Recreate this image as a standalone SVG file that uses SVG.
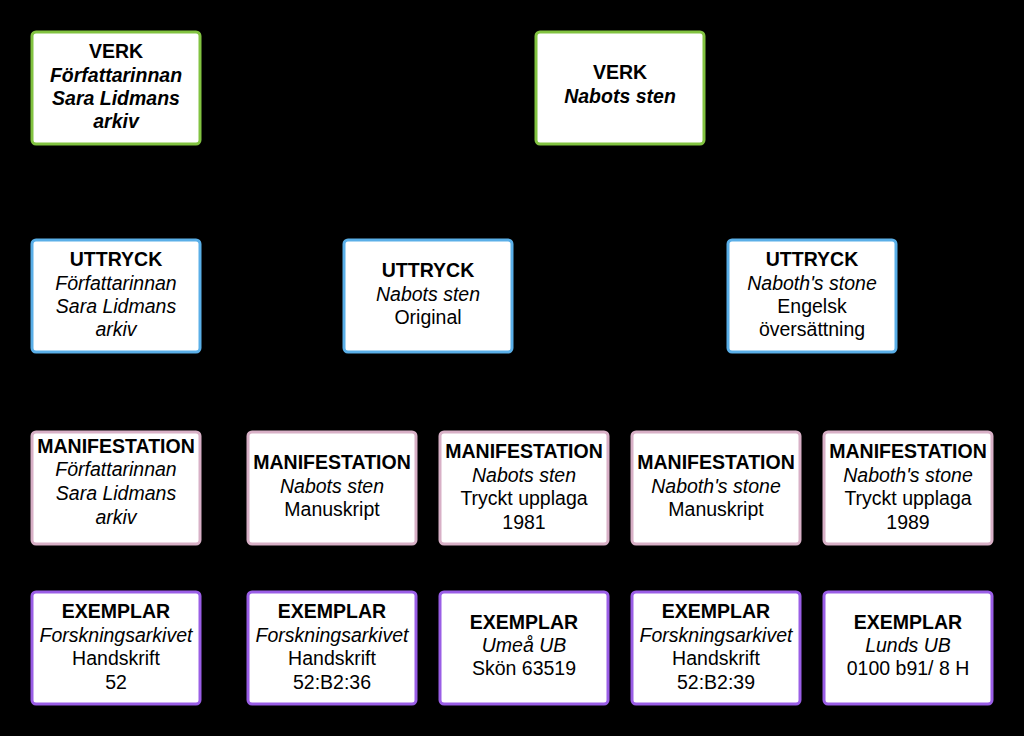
<svg xmlns="http://www.w3.org/2000/svg" width="1024" height="736" viewBox="0 0 1024 736">
<style>
.box{fill:#fff;stroke-width:3}
.verk{stroke:#82c341}
.utt{stroke:#5aafe8}
.man{stroke:#d8b0c6}
.ex{stroke:#9a5ee6}
text{font-family:"Liberation Sans",Arial,sans-serif;font-size:19.5px;fill:#000;text-anchor:middle}
.b{font-weight:bold}
.i{font-style:italic}
.c{fill:none;stroke:#000;stroke-width:1.5}
</style>
<rect width="1024" height="736" fill="#000"/>
<g id="connectors">
<path class="c" d="M200 87 H536"/>
<path class="c" d="M112 144 V240"/>
<path class="c" d="M592 144 V192 H428 V240"/>
<path class="c" d="M646 144 V192 H812 V240"/>
<path class="c" d="M200 296 H344"/>
<path class="c" d="M112 352 V432"/>
<path class="c" d="M392 352 V392 H332 V432"/>
<path class="c" d="M460 352 V392 H523 V432"/>
<path class="c" d="M773 352 V392 H715 V432"/>
<path class="c" d="M849 352 V392 H907 V432"/>
<path class="c" d="M112 544 V592"/>
<path class="c" d="M332 544 V592"/>
<path class="c" d="M524 544 V592"/>
<path class="c" d="M716 544 V592"/>
<path class="c" d="M908 544 V592"/>
</g>
<g id="verk-arkiv"><rect class="box verk" x="32" y="32" width="168" height="112" rx="4"/>
<text x="116" y="58" class="b">VERK</text>
<text x="116" y="82" class="b i">Författarinnan</text>
<text x="116" y="105" class="b i">Sara Lidmans</text>
<text x="116" y="128" class="b i">arkiv</text></g>
<g id="verk-nabots"><rect class="box verk" x="536" y="32" width="168" height="112" rx="4"/>
<text x="620" y="79" class="b">VERK</text>
<text x="620" y="103" class="b i">Nabots sten</text></g>
<g id="uttryck-arkiv"><rect class="box utt" x="32" y="240" width="168" height="112" rx="4"/>
<text x="116" y="266" class="b">UTTRYCK</text>
<text x="116" y="290" class="i">Författarinnan</text>
<text x="116" y="313" class="i">Sara Lidmans</text>
<text x="116" y="336" class="i">arkiv</text></g>
<g id="uttryck-nabots"><rect class="box utt" x="344" y="240" width="168" height="112" rx="4"/>
<text x="428" y="277" class="b">UTTRYCK</text>
<text x="428" y="301" class="i">Nabots sten</text>
<text x="428" y="324">Original</text></g>
<g id="uttryck-naboths"><rect class="box utt" x="728" y="240" width="168" height="112" rx="4"/>
<text x="812" y="266" class="b">UTTRYCK</text>
<text x="812" y="290" class="i">Naboth's stone</text>
<text x="812" y="313">Engelsk</text>
<text x="812" y="336">översättning</text></g>
<g id="man-arkiv"><rect class="box man" x="32" y="432" width="168" height="112" rx="4"/>
<text x="116" y="453" class="b">MANIFESTATION</text>
<text x="116" y="476" class="i">Författarinnan</text>
<text x="116" y="500" class="i">Sara Lidmans</text>
<text x="116" y="524" class="i">arkiv</text></g>
<g id="man-nabots-manus"><rect class="box man" x="248" y="432" width="168" height="112" rx="4"/>
<text x="332" y="469" class="b">MANIFESTATION</text>
<text x="332" y="493" class="i">Nabots sten</text>
<text x="332" y="516">Manuskript</text></g>
<g id="man-nabots-tryck"><rect class="box man" x="440" y="432" width="168" height="112" rx="4"/>
<text x="524" y="458" class="b">MANIFESTATION</text>
<text x="524" y="482" class="i">Nabots sten</text>
<text x="524" y="505">Tryckt upplaga</text>
<text x="524" y="529">1981</text></g>
<g id="man-naboths-manus"><rect class="box man" x="632" y="432" width="168" height="112" rx="4"/>
<text x="716" y="469" class="b">MANIFESTATION</text>
<text x="716" y="493" class="i">Naboth's stone</text>
<text x="716" y="516">Manuskript</text></g>
<g id="man-naboths-tryck"><rect class="box man" x="824" y="432" width="168" height="112" rx="4"/>
<text x="908" y="458" class="b">MANIFESTATION</text>
<text x="908" y="482" class="i">Naboth's stone</text>
<text x="908" y="505">Tryckt upplaga</text>
<text x="908" y="529">1989</text></g>
<g id="ex-1"><rect class="box ex" x="32" y="592" width="168" height="112" rx="4"/>
<text x="116" y="618" class="b">EXEMPLAR</text>
<text x="116" y="642" class="i">Forskningsarkivet</text>
<text x="116" y="665">Handskrift</text>
<text x="116" y="689">52</text></g>
<g id="ex-2"><rect class="box ex" x="248" y="592" width="168" height="112" rx="4"/>
<text x="332" y="618" class="b">EXEMPLAR</text>
<text x="332" y="642" class="i">Forskningsarkivet</text>
<text x="332" y="665">Handskrift</text>
<text x="332" y="689">52:B2:36</text></g>
<g id="ex-3"><rect class="box ex" x="440" y="592" width="168" height="112" rx="4"/>
<text x="524" y="629" class="b">EXEMPLAR</text>
<text x="524" y="652" class="i">Umeå UB</text>
<text x="524" y="675">Skön 63519</text></g>
<g id="ex-4"><rect class="box ex" x="632" y="592" width="168" height="112" rx="4"/>
<text x="716" y="618" class="b">EXEMPLAR</text>
<text x="716" y="642" class="i">Forskningsarkivet</text>
<text x="716" y="665">Handskrift</text>
<text x="716" y="689">52:B2:39</text></g>
<g id="ex-5"><rect class="box ex" x="824" y="592" width="168" height="112" rx="4"/>
<text x="908" y="629" class="b">EXEMPLAR</text>
<text x="908" y="652" class="i">Lunds UB</text>
<text x="908" y="675">0100 b91/ 8 H</text></g>
</svg>
